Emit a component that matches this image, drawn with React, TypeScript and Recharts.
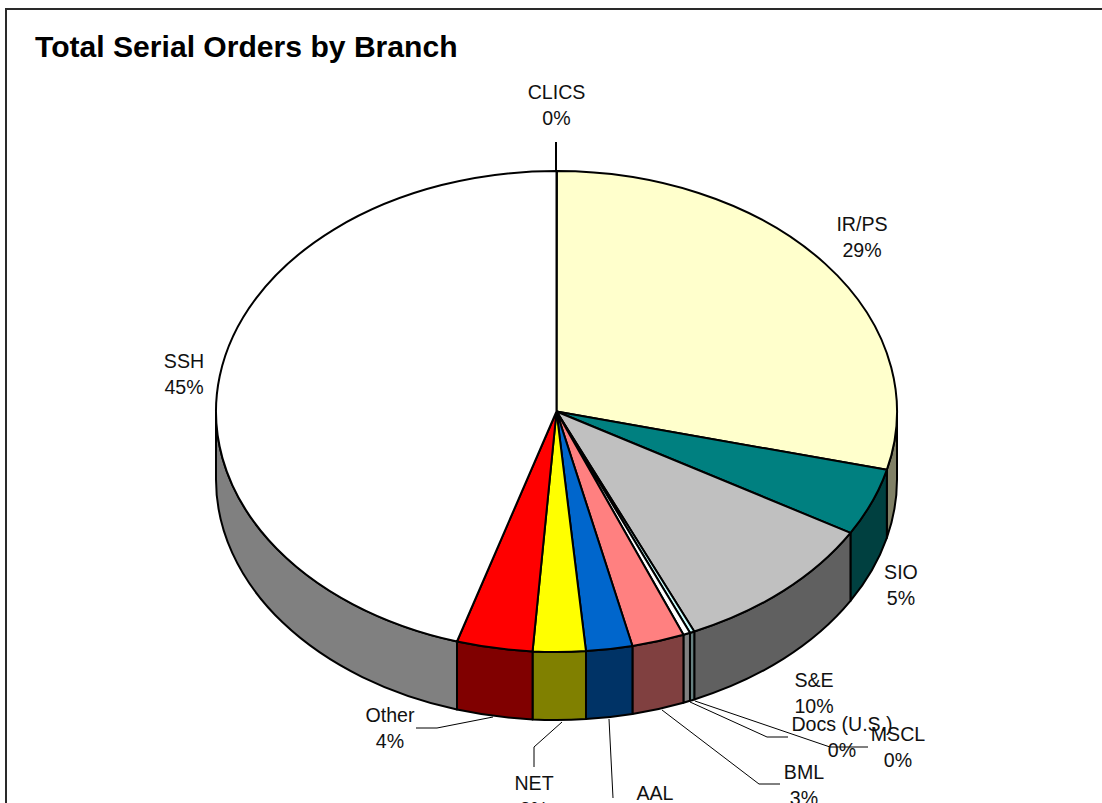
import React from 'react';
import { PieChart, Pie, Cell } from 'recharts';

const branches = ['CLICS', 'IR/PS', 'SIO', 'S&E', 'MSCL', 'Docs (U.S.)', 'BML', 'AAL', 'NET', 'Other', 'SSH'];
const shares = [0.02, 28.88, 4.52, 9.95, 0.22, 0.33, 2.5, 2.2, 2.5, 3.6, 45.28];
const topColors = ['#000000', '#FFFFCC', '#008080', '#C0C0C0', '#CCFFFF', '#FFFFFF', '#FF8080', '#0066CC', '#FFFF00', '#FF0000', '#FFFFFF'];
const wallColors = ['#000000', '#808066', '#004040', '#606060', '#668080', '#808080', '#804040', '#003366', '#808000', '#800000', '#808080'];

const chartData = branches.map((name, i) => ({ name, value: shares[i] }));

// label layout: centre x, first line y, leader polyline
const labelLayout: Record<string, { x: number; y: number; leader?: string }> = {
  CLICS: { x: 556.5, y: 92, leader: '556,142 556,172' },
  'IR/PS': { x: 862, y: 224 },
  SIO: { x: 901, y: 572 },
  'S&E': { x: 814, y: 680 },
  MSCL: { x: 898, y: 734, leader: '695,701 830,747 868,747' },
  'Docs (U.S.)': { x: 842, y: 724, leader: '690,702 767,737 788,737' },
  BML: { x: 804, y: 772, leader: '662,710 759,784 780,784' },
  AAL: { x: 655, y: 793, leader: '609,719 613,798' },
  NET: { x: 534, y: 783, leader: '562,722 534,747 534,767' },
  Other: { x: 390, y: 715, leader: '493,717 437,728 416,728' },
  SSH: { x: 184, y: 361 },
};

const SQUASH = 240.5 / 340.5;
const DEPTH = 68;
const FONT = '"Liberation Sans", Arial, sans-serif';

const rad = (deg: number) => (deg * Math.PI) / 180;

// flat pie sector -> tilted slice with an outer wall
const TiltedSlice = (props: any) => {
  const { cx, cy, outerRadius, startAngle, endAngle, fill, index } = props;
  const rx = outerRadius;
  const ry = outerRadius * SQUASH;
  const t1 = 90 - startAngle;
  const t2 = 90 - endAngle;
  const px = (t: number) => cx + rx * Math.sin(rad(t));
  const py = (t: number, dy = 0) => cy - ry * Math.cos(rad(t)) + dy;
  const large = t2 - t1 > 180 ? 1 : 0;
  const top = `M${cx},${cy}L${px(t1)},${py(t1)}A${rx},${ry} 0 ${large} 1 ${px(t2)},${py(t2)}Z`;

  const w1 = Math.max(t1, 90);
  const w2 = Math.min(t2, 270);
  const wall =
    w2 > w1
      ? `M${px(w1)},${py(w1)}A${rx},${ry} 0 0 1 ${px(w2)},${py(w2)}L${px(w2)},${py(w2, DEPTH)}A${rx},${ry} 0 0 0 ${px(w1)},${py(w1, DEPTH)}Z`
      : null;

  return (
    <g>
      {wall && <path d={wall} fill={wallColors[index]} stroke="#000" strokeWidth={2} strokeLinejoin="round" />}
      <path d={top} fill={fill} stroke="#000" strokeWidth={2} strokeLinejoin="round" />
    </g>
  );
};

const SliceLabel = (props: any) => {
  const { name, percent } = props;
  const spot = labelLayout[name];
  return (
    <g>
      {spot.leader && <polyline points={spot.leader} fill="none" stroke="#000" strokeWidth={name === 'CLICS' ? 2 : 1} />}
      <text x={spot.x} y={spot.y} textAnchor="middle" dominantBaseline="central" fontFamily={FONT} fontSize={19.6} fill="#111">
        {name}
      </text>
      <text x={spot.x} y={spot.y + 25.5} textAnchor="middle" dominantBaseline="central" fontFamily={FONT} fontSize={19.6} fill="#111">
        {`${Math.round(percent * 100)}%`}
      </text>
    </g>
  );
};

export default function App() {
  return (
    <div style={{ position: 'fixed', left: 0, top: 0, width: 1102, height: 803, overflow: 'hidden', background: '#fff' }}>
      <div style={{ position: 'absolute', left: 5, top: 8, width: 1097, height: 2, background: '#2a2a2a' }} />
      <div style={{ position: 'absolute', left: 5, top: 8, width: 2, height: 795, background: '#2a2a2a' }} />
      <PieChart width={1102} height={803} margin={{ top: 0, right: 0, bottom: 0, left: 0 }} style={{ position: 'absolute', left: 0, top: 0 }}>
        <text x={35} y={57} fontFamily={FONT} fontSize={30.1} fontWeight="bold" fill="#000">
          Total Serial Orders by Branch
        </text>
        <Pie
          data={chartData}
          dataKey="value"
          nameKey="name"
          cx={556.5}
          cy={411.5}
          outerRadius={340.5}
          startAngle={90}
          endAngle={-270}
          isAnimationActive={false}
          shape={TiltedSlice}
          label={SliceLabel}
          labelLine={false}
          stroke="#000"
        >
          {branches.map((b, i) => (
            <Cell key={b} fill={topColors[i]} />
          ))}
        </Pie>
      </PieChart>
    </div>
  );
}
